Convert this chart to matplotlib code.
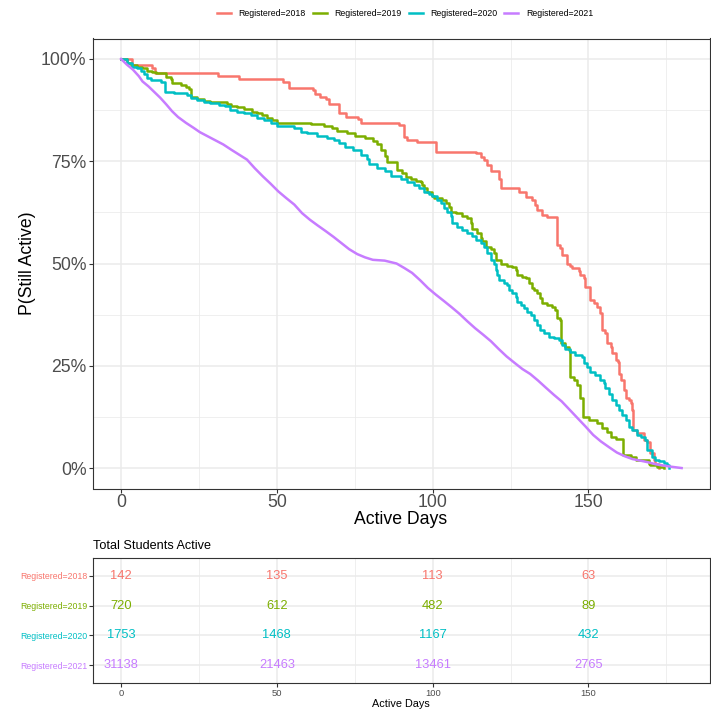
import matplotlib
matplotlib.use("Agg")
import matplotlib.pyplot as plt
from matplotlib.lines import Line2D
import numpy as np

plt.rcParams['font.family'] = ['Liberation Sans', 'DejaVu Sans']

groups = ['Registered=2018', 'Registered=2019', 'Registered=2020', 'Registered=2021']
colors = ['#F8766D', '#7CAE00', '#00BFC4', '#C77CFF']

# Kaplan-Meier step points: time (days) and survival (%)
t_2018 = [0, 3.6, 10.0, 11.0, 31.1, 38.0, 52.1, 54.0, 61.5, 62.2, 64.0, 65.7, 66.8, 70.0, 72.1,
          75.9, 77.1, 89.2, 90.8, 91.9, 95.1, 101.0, 113.8, 115.4, 116.5, 117.5, 118.6, 121.3,
          121.8, 127.7, 129.8, 131.9, 133.0, 133.5, 135.1, 136.8, 140.0, 141.0, 141.6, 143.2,
          144.2, 144.8, 146.9, 147.4, 148.5, 149.0, 150.4, 151.7, 152.8, 153.8, 154.4, 155.4,
          156.0, 157.1, 157.6, 158.7, 159.4, 159.9, 160.5, 161.3, 161.9, 162.9, 163.5, 164.0,
          164.3, 165.6, 167.7, 168.8, 169.9, 170.9, 171.5, 172.5]
s_2018 = [100, 98.6, 97.9, 96.5, 95.8, 95.1, 94.4, 93.0, 92.3, 91.5, 90.8, 90.1, 89.0, 86.7, 85.9,
          85.2, 84.4, 83.8, 81.0, 80.2, 79.6, 77.3, 76.9, 76.1, 75.3, 74.1, 72.6, 70.6,
          68.4, 67.6, 66.3, 65.5, 64.3, 63.1, 61.9, 61.4, 54.5, 53.7, 52.1, 50.0,
          49.4, 48.8, 48.2, 47.2, 46.4, 44.3, 41.1, 40.3, 39.4, 37.8, 33.7, 32.9,
          30.5, 29.7, 28.0, 26.4, 26.0, 23.0, 21.5, 19.1, 17.0, 16.6, 15.8, 14.2,
          9.3, 8.5, 6.8, 6.4, 3.6, 2.0, 1.1, 0.0]

t_2019 = [0, 2.0, 3.1, 5.2, 6.8, 8.4, 10.0, 11.1, 14.3, 15.9, 16.4, 19.1, 21.0, 21.8, 22.3, 24.5,
          26.6, 28.7, 30.9, 34.1, 35.2, 37.3, 39.4, 42.1, 43.7, 45.3, 46.9, 48.5, 50.1, 55.4,
          60.8, 65.1, 67.6, 69.4, 72.6, 75.1, 78.3, 80.8, 82.1, 83.3, 84.6, 85.2, 88.7, 90.3,
          91.3, 92.9, 94.6, 96.2, 96.7, 97.2, 98.3, 99.9, 100.4, 103.1, 104.2, 105.2, 105.8,
          107.4, 109.5, 111.1, 112.2, 112.7, 114.3, 115.4, 115.9, 117.0, 118.6, 119.7, 120.2,
          121.8, 123.9, 125.5, 126.6, 127.1, 128.7, 129.8, 130.9, 131.9, 132.5, 133.5, 134.6,
          135.1, 136.8, 138.4, 139.4, 140.0, 141.0, 141.3, 142.6, 143.6, 144.2, 145.3, 146.4,
          147.2, 148.2, 150.1, 152.8, 154.4, 156.0, 157.1, 158.7, 161.1, 163.5, 165.1, 169.3,
          169.9, 172.0, 174.1]
s_2019 = [100, 99.1, 98.5, 98.0, 97.7, 97.1, 96.7, 96.5, 95.7, 95.0, 94.0, 93.6, 93.2, 92.6, 90.8, 90.1,
          89.8, 89.6, 89.4, 89.0, 88.6, 88.2, 87.7, 87.1, 86.7, 86.3, 85.5, 85.1, 84.4, 84.3,
          84.1, 83.6, 83.2, 82.5, 81.9, 81.1, 80.7, 79.9, 79.1, 77.8, 76.2, 74.7, 72.9, 72.0,
          71.1, 70.6, 70.2, 70.0, 69.2, 68.4, 67.6, 66.5, 65.9, 65.5, 64.7, 63.9, 62.7,
          62.3, 61.6, 61.0, 59.8, 58.4, 57.4, 56.2, 55.4, 54.1, 53.5, 52.5, 50.9,
          50.0, 49.4, 49.2, 48.4, 47.2, 46.6, 46.4, 45.2, 43.9, 43.5, 42.7, 41.5,
          40.3, 39.8, 39.4, 38.6, 36.6, 36.3, 30.5, 29.7, 28.9, 22.3, 21.5, 20.3,
          17.0, 12.5, 11.7, 10.9, 9.7, 8.9, 7.7, 7.0, 3.2, 2.6, 2.0, 1.1,
          0.7, 0.3, 0.0]

t_2020 = [0, 2.0, 3.6, 5.2, 6.3, 7.4, 8.4, 9.5, 12.7, 14.0, 17.0, 19.7, 21.3, 22.3, 24.5, 26.6,
          28.7, 31.4, 33.5, 35.1, 37.3, 39.4, 41.6, 43.7, 45.8, 48.0, 50.1, 53.3, 55.4, 57.6,
          59.7, 62.9, 66.1, 68.2, 70.1, 72.0, 74.5, 77.0, 78.9, 79.5, 82.1, 84.6, 86.5, 89.7,
          91.9, 94.0, 95.6, 97.2, 98.8, 99.9, 101.5, 102.6, 103.6, 104.7, 105.8, 106.3, 107.9,
          109.5, 111.1, 112.7, 113.8, 115.4, 116.4, 117.5, 118.6, 119.7, 120.2, 120.7, 121.3,
          122.9, 123.9, 124.5, 125.5, 126.6, 127.1, 128.2, 129.3, 130.3, 131.4, 132.5, 133.5,
          134.6, 135.7, 137.3, 138.9, 140.5, 141.5, 142.6, 144.2, 145.8, 147.9, 148.5, 149.5,
          150.6, 152.1, 153.8, 154.9, 155.4, 156.5, 157.6, 158.7, 159.7, 160.8, 161.9, 162.9,
          164.0, 165.6, 166.7, 168.3, 168.8, 170.4, 171.5, 172.5, 174.1, 175.2, 176.0]
s_2020 = [100, 99.0, 98.1, 97.7, 97.1, 96.3, 95.3, 94.9, 94.3, 92.0, 91.8, 91.6, 91.2, 90.4, 90.0, 89.6,
          89.2, 88.8, 88.4, 87.6, 87.1, 86.7, 86.3, 85.5, 85.1, 84.3, 83.6, 83.5, 83.0, 82.2,
          81.8, 81.2, 80.6, 80.2, 79.5, 78.6, 77.7, 76.6, 75.6, 74.4, 73.3, 72.5, 71.4, 70.6,
          70.0, 69.2, 68.4, 67.6, 67.0, 66.5, 65.5, 64.7, 63.5, 62.7, 61.5, 59.8, 59.0,
          58.2, 57.4, 56.6, 55.8, 54.9, 54.1, 52.5, 50.9, 50.0, 48.4, 47.2, 46.0,
          45.3, 44.8, 43.5, 42.7, 41.9, 40.7, 39.9, 39.1, 38.2, 37.4, 36.2, 34.9,
          33.7, 32.9, 32.1, 31.7, 31.3, 30.1, 29.2, 28.4, 27.6, 27.2, 25.6, 24.8,
          23.5, 22.7, 21.5, 20.7, 19.5, 18.2, 16.6, 15.4, 14.2, 13.0, 11.7, 10.1,
          9.3, 8.1, 7.7, 6.9, 4.4, 2.8, 2.0, 1.6, 1.2, 0.8, 0.0]

# 2021 cohort is very large: its daily steps are tiny, so the curve is read as a dense trace
t_2021 = [0, 1.9, 3.8, 5.7, 6.9, 8.8, 10.7, 12.6, 14.5, 16.4, 18.3, 20.8, 23.4, 25.3, 27.8, 30.3,
          32.8, 35.4, 37.9, 40.4, 42.9, 45.5, 48.0, 50.5, 53.0, 55.6, 58.1, 60.6, 63.1, 65.7,
          68.2, 70.7, 73.2, 75.8, 78.3, 80.8, 84.6, 88.4, 90.9, 93.4, 96.0, 98.5, 101.0, 103.5,
          106.1, 108.6, 111.1, 113.6, 116.2, 118.7, 121.2, 123.7, 126.3, 128.8, 131.3, 133.8,
          136.4, 138.9, 141.4, 143.9, 146.5, 149.0, 151.5, 154.0, 156.6, 159.1, 161.6, 164.1,
          166.7, 169.2, 171.7, 174.2, 176.8, 179.9]
s_2021 = [100, 98.6, 97.4, 95.8, 94.5, 93.3, 91.9, 90.5, 88.9, 87.2, 85.8, 84.4, 83.1, 82.1, 81.1, 80.1,
          79.1, 77.8, 76.6, 75.4, 73.3, 71.3, 69.5, 67.6, 66.0, 64.4, 62.3, 60.7, 59.3, 57.9,
          56.5, 55.0, 53.5, 52.3, 51.5, 50.9, 50.7, 50.0, 48.9, 47.7, 45.9, 44.0, 42.4, 40.9,
          39.3, 37.7, 35.9, 34.2, 32.6, 31.0, 29.1, 27.3, 25.7, 24.2, 23.0, 21.4,
          19.6, 17.9, 16.3, 14.3, 12.2, 10.2, 8.1, 6.5, 5.1, 3.8, 2.9, 2.2,
          1.8, 1.4, 0.9, 0.6, 0.3, 0.0]

# Risk table
risk_times = [0, 50, 100, 150]
risk_2018 = [142, 135, 113, 63]
risk_2019 = [720, 612, 482, 89]
risk_2020 = [1753, 1468, 1167, 432]
risk_2021 = [31138, 21463, 13461, 2765]

x_ticks = [0, 50, 100, 150]
x_minor = [25, 75, 125, 175]
y_ticks = [0, 25, 50, 75, 100]
y_ticklabels = ['0%', '25%', '50%', '75%', '100%']
y_minor = [12.5, 37.5, 62.5, 87.5]

series = [(t_2018, s_2018), (t_2019, s_2019), (t_2020, s_2020), (t_2021, s_2021)]
drawstyles = ['steps-post', 'steps-post', 'steps-post', 'default']
risks = [risk_2018, risk_2019, risk_2020, risk_2021]

W, H = 711, 710
fig = plt.figure(figsize=(W / 100, H / 100), dpi=100)
fig.patch.set_facecolor('white')


def fx(px):
    return px / W


def fy(py):
    return 1 - py / H


grid_c = '#EBEBEB'
dark = '#333333'
tick_c = '#4D4D4D'


def style_axes(ax):
    for sp in ax.spines.values():
        sp.set_color(dark)
        sp.set_linewidth(0.8)
    ax.set_axisbelow(True)


# ---------- main plot ----------
ax = fig.add_axes([fx(93), fy(488.5), fx(710) - fx(93), fy(38.5) - fy(488.5)])
style_axes(ax)
ax.set_xlim(-9, 189)
ax.set_ylim(-5, 105)
ax.set_xticks(x_ticks)
ax.set_xticks(x_minor, minor=True)
ax.set_yticks(y_ticks)
ax.set_yticklabels(y_ticklabels)
ax.set_yticks(y_minor, minor=True)
ax.grid(True, which='major', color=grid_c, linewidth=1.1)
ax.grid(True, which='minor', color=grid_c, linewidth=0.55)
ax.tick_params(which='major', length=2.9, width=0.8, color=dark, labelcolor=tick_c, labelsize=12.7)
ax.tick_params(which='minor', length=0)
ax.tick_params(axis='x', pad=1.0)
ax.tick_params(axis='y', pad=1.8)

for (t, s), c, ds in zip(series, colors, drawstyles):
    ax.plot(t, s, drawstyle=ds, color=c, linewidth=1.8)

fig.text(fx(401), fy(520), 'Active Days', ha='center', va='center', fontsize=12.7, color='black')
fig.text(fx(28), fy(263.5), 'P(Still Active)', ha='center', va='center', rotation=90,
         fontsize=12.7, color='black')

# legend
handles = [Line2D([], [], color=c, linewidth=1.8) for c in colors]
fig.legend(handles, groups, loc='center', bbox_to_anchor=(fx(405), fy(14)), ncol=4,
           frameon=False, fontsize=6.3, handlelength=1.6, handletextpad=0.88,
           columnspacing=0.8, borderpad=0, borderaxespad=0)

# ---------- risk table ----------
rt = fig.add_axes([fx(93), fy(683), fx(710) - fx(93), fy(558) - fy(683)])
style_axes(rt)
rt.set_xlim(-9, 189)
rt.set_ylim(0.4, 4.6)
row_pos = [4, 3, 2, 1]
rt.set_xticks(x_ticks)
rt.set_xticks(x_minor, minor=True)
rt.set_yticks(row_pos)
rt.set_yticklabels(groups)
rt.grid(True, which='major', color=grid_c, linewidth=1.1)
rt.grid(True, which='minor', axis='x', color=grid_c, linewidth=0.55)
rt.tick_params(which='major', length=2.9, width=0.8, color=dark, labelcolor=tick_c, labelsize=6.8)
rt.tick_params(axis='y', labelsize=6.3, pad=1.0)
rt.tick_params(axis='x', pad=1.2)
rt.tick_params(which='minor', length=0)
for lab, c in zip(rt.get_yticklabels(), colors):
    lab.set_color(c)

for r, y, c in zip(risks, row_pos, colors):
    for tt, n in zip(risk_times, r):
        rt.text(tt, y, str(n), ha='center', va='center', color=c, fontsize=9.3)

fig.text(fx(93), fy(546), 'Total Students Active', ha='left', va='center', fontsize=9.1, color='black')
fig.text(fx(401), fy(704), 'Active Days', ha='center', va='center', fontsize=7.8, color='black')

fig.savefig('out.png', dpi=100, facecolor='white')
